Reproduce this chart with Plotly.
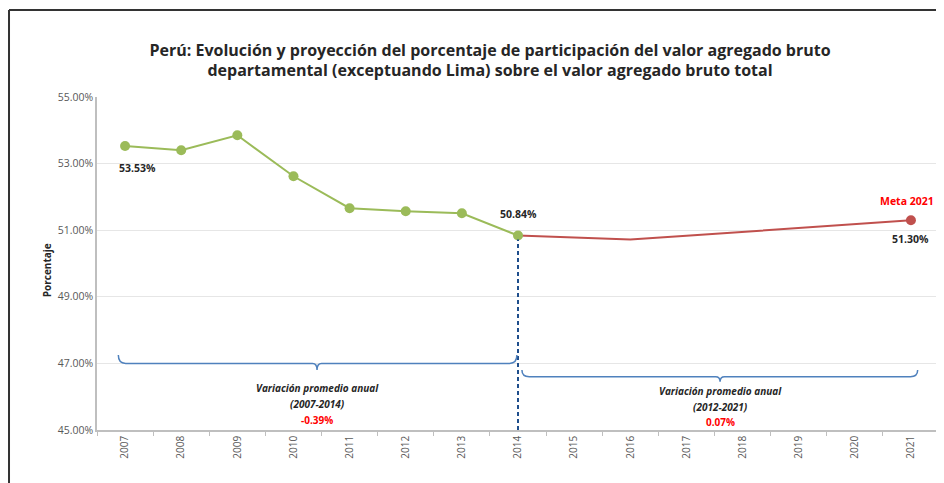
import plotly.graph_objects as go

years = list(range(2007, 2022))
hist_years = [2007, 2008, 2009, 2010, 2011, 2012, 2013, 2014]
hist_vals = [53.53, 53.40, 53.85, 52.62, 51.66, 51.57, 51.51, 50.84]
proj_years = [2014, 2015, 2016, 2017, 2018, 2019, 2020, 2021]
proj_vals = [50.84, 50.78, 50.72, 50.83, 50.95, 51.06, 51.18, 51.30]
var_hist = "-0.39%"
var_proj = "0.07%"

GREEN = "#9BBB59"
RED = "#C0504D"
BLUE = "#4F81BD"
TXT = "#262626"
FONT = "Open Sans"

fig = go.Figure()

# proyeccion (roja)
fig.add_trace(go.Scatter(x=proj_years, y=proj_vals, mode="lines",
                         line=dict(color=RED, width=2), hoverinfo="skip"))
fig.add_trace(go.Scatter(x=[proj_years[-1]], y=[proj_vals[-1]], mode="markers",
                         marker=dict(color=RED, size=10), hoverinfo="skip"))
# historico (verde)
fig.add_trace(go.Scatter(x=hist_years, y=hist_vals, mode="lines+markers",
                         line=dict(color=GREEN, width=2),
                         marker=dict(color=GREEN, size=10), hoverinfo="skip"))

# linea vertical 2014
fig.add_shape(type="line", x0=2014, x1=2014, y0=45, y1=hist_vals[-1] - 0.12,
              xref="x", yref="y", line=dict(color="#1F4E8C", width=2, dash="4px,3px"))

# llaves
def bracket(x0, x1, xm, y, up, down):
    r = 0.08
    return (f"M {x0-0.05},{y+up} Q {x0-0.05},{y} {x0+r},{y} "
            f"L {xm-r},{y} Q {xm},{y} {xm},{y-down} Q {xm},{y} {xm+r},{y} "
            f"L {x1-r},{y} Q {x1+0.05},{y} {x1+0.05},{y+up}")

fig.add_shape(type="path", xref="x", yref="y",
              path=bracket(2006.93, 2013.93, 2010.42, 47.0, 0.25, 0.2),
              line=dict(color=BLUE, width=1.5))
fig.add_shape(type="path", xref="x", yref="y",
              path=bracket(2014.12, 2021.07, 2017.6, 46.6, 0.2, 0.15),
              line=dict(color=BLUE, width=1.5))

ann = [
    dict(x=2010.42, y=46.26, text="<b><i>Variación promedio anual</i></b>", font=dict(color=TXT, size=10)),
    dict(x=2010.42, y=45.78, text="<b><i>(2007-2014)</i></b>", font=dict(color=TXT, size=10)),
    dict(x=2010.42, y=45.30, text="<b>" + var_hist + "</b>", font=dict(color="#FF0000", size=10)),
    dict(x=2017.6, y=46.17, text="<b><i>Variación promedio anual</i></b>", font=dict(color=TXT, size=10)),
    dict(x=2017.6, y=45.69, text="<b><i>(2012-2021)</i></b>", font=dict(color=TXT, size=10)),
    dict(x=2017.6, y=45.24, text="<b>" + var_proj + "</b>", font=dict(color="#FF0000", size=10)),
    dict(x=hist_years[0], y=hist_vals[0], text=f"<b>{hist_vals[0]:.2f}%</b>", xshift=12, yshift=-22,
         font=dict(color=TXT, size=10.5)),
    dict(x=hist_years[-1], y=hist_vals[-1], text=f"<b>{hist_vals[-1]:.2f}%</b>", yshift=22,
         font=dict(color=TXT, size=10.5)),
    dict(x=proj_years[-1], y=proj_vals[-1], text=f"<b>{proj_vals[-1]:.2f}%</b>", yshift=-19,
         font=dict(color=TXT, size=10.5)),
    dict(x=proj_years[-1], y=proj_vals[-1], text="<b>Meta 2021</b>", xshift=-4, yshift=19,
         font=dict(color="#FF0000", size=10.5)),
]
for a in ann:
    fig.add_annotation(xref="x", yref="y", showarrow=False, **a)

fig.add_annotation(xref="paper", yref="paper", x=-0.07, y=0.48, text="<b>Porcentaje</b>",
                   textangle=-90, showarrow=False, font=dict(color=TXT, size=10))

# marco
fig.add_shape(type="line", xref="paper", yref="paper", x0=-0.1045, x1=1.02, y0=1.261, y1=1.261,
              line=dict(color="#333333", width=2))
fig.add_shape(type="line", xref="paper", yref="paper", x0=-0.1045, x1=-0.1045, y0=1.261, y1=-0.17,
              line=dict(color="#333333", width=2))

# la pagina deja 8px de margen, se compensa aqui
fig.update_layout(
    width=936, height=475,
    margin=dict(l=89, r=5, t=89, b=53),
    paper_bgcolor="white", plot_bgcolor="white",
    showlegend=False,
    font=dict(family=FONT, color="#595959"),
    title=dict(text="<b>Perú: Evolución y proyección del porcentaje de participación del valor agregado bruto<br>"
                    "departamental (exceptuando Lima) sobre el valor agregado bruto total</b>",
               x=0.515, xref="container", xanchor="center", y=0.90, yanchor="middle",
               font=dict(family=FONT, size=16, color=TXT)),
    xaxis=dict(range=[2006.5, 2021.5], tickvals=years, ticktext=[str(y) for y in years],
               tickangle=-90, ticks="", showgrid=False, zeroline=False,
               showline=True, linecolor="#BFBFBF", linewidth=1.5,
               minor=dict(tick0=2006.5, dtick=1, ticks="outside", ticklen=4, tickcolor="#BFBFBF", showgrid=False),
               tickfont=dict(size=10, color="#595959")),
    yaxis=dict(range=[45, 55], dtick=2, tick0=45, tickformat=".2f", ticksuffix="%",
               showgrid=True, gridcolor="#E6E6E6", zeroline=False,
               showline=True, linecolor="#BFBFBF", linewidth=1.5, ticks="",
               tickfont=dict(size=10.5, color="#595959")),
)

fig.write_html("out.html")
